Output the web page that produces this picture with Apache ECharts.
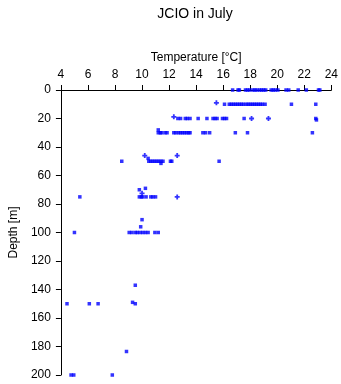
<!DOCTYPE html>
<html>
<head>
<meta charset="utf-8">
<script src="https://cdn.jsdelivr.net/npm/echarts@6/dist/echarts.min.js"></script>
<style>
  html, body { margin: 0; padding: 0; background: #fff; }
  #chart { width: 341px; height: 384px; }
</style>
</head>
<body>
<div id="chart"></div>
<script>
// Temperature profile samples, [temperature °C, depth m]
const surfaceSamples = [
  [16.7, 0], [17.1, 0], [17.2, 0], [17.65, 0], [17.8, 0], [17.95, 0], [18.2, 0], [18.35, 0],
  [18.5, 0], [18.7, 0], [18.85, 0], [19.0, 0], [19.15, 0], [19.55, 0], [19.7, 0], [19.85, 0],
  [20.05, 0], [20.65, 0], [20.85, 0], [21.55, 0], [22.15, 0], [23.05, 0], [23.15, 0]
];
const upperSamples = [
  [16.1, 10], [16.45, 10], [16.6, 10], [16.75, 10], [16.9, 10], [17.05, 10], [17.2, 10], [17.35, 10],
  [17.5, 10], [17.7, 10], [17.85, 10], [18.0, 10], [18.15, 10], [18.3, 10], [18.45, 10], [18.6, 10],
  [18.75, 10], [18.9, 10], [19.1, 10], [21.05, 10], [22.85, 10],
  [12.65, 20], [12.85, 20], [13.2, 20], [13.35, 20], [13.55, 20], [14.15, 20], [14.8, 20],
  [15.25, 20], [15.4, 20], [15.55, 20], [15.95, 20], [16.1, 20], [16.25, 20], [17.55, 20],
  [22.85, 20], [22.9, 21],
  [11.2, 28], [11.2, 30], [11.35, 30], [11.45, 30], [11.7, 30], [11.85, 30], [12.35, 30], [12.5, 30],
  [12.7, 30], [12.85, 30], [13.0, 30], [13.15, 30], [13.3, 30], [13.45, 30], [13.55, 30],
  [14.5, 30], [14.7, 30], [15.0, 30], [16.9, 30], [17.8, 30], [22.6, 30]
];
const middleSamples = [
  [8.5, 50], [10.45, 48], [10.5, 50], [10.65, 50], [10.8, 50], [10.95, 50], [11.1, 50], [11.25, 50],
  [11.4, 50], [11.55, 50], [11.4, 51.5], [12.1, 50], [12.2, 50], [15.7, 50],
  [9.8, 70], [10.25, 69], [5.4, 75], [9.8, 75], [9.95, 75], [10.05, 75], [10.3, 75], [10.65, 75],
  [10.8, 75], [11.0, 75],
  [10.0, 91], [9.9, 96], [5.0, 100], [9.05, 100], [9.25, 100], [9.5, 100], [9.65, 100], [9.85, 100],
  [10.05, 100], [10.25, 100], [10.45, 100], [10.95, 100], [11.2, 100]
];
const deepSamples = [
  [9.5, 137], [4.45, 150], [6.1, 150], [6.75, 150], [9.3, 149], [9.5, 150],
  [8.85, 183.5], [4.75, 200], [4.95, 200], [7.8, 200]
];
// Casts plotted with the plus symbol
const plusSamples = [
  [15.5, 9], [12.35, 18.8], [18.1, 20], [19.35, 20],
  [10.2, 46], [12.6, 46], [10.0, 72.5], [12.6, 75]
];

const tempTicks = { min: 4, max: 24, step: 2 };
const depthTicks = { min: 0, max: 200, step: 20 };

const font = 'Liberation Sans, Arial, Helvetica, sans-serif';
const blue = '#0000ff';
const plusPath = 'path://M1.6,0H3.4V1.6H5V3.4H3.4V5H1.6V3.4H0V1.6H1.6Z';

const chart = echarts.init(document.getElementById('chart'), null, { renderer: 'canvas' });
chart.setOption({
  animation: false,
  backgroundColor: '#ffffff',
  title: {
    text: 'JCIO in July',
    left: 190,
    top: 2,
    textAlign: 'center',
    textStyle: { fontFamily: font, fontSize: 14, fontWeight: 'normal', color: '#000' }
  },
  grid: { left: 47, right: 8, top: 90, bottom: 9, containLabel: false },
  xAxis: {
    type: 'value',
    position: 'top',
    min: tempTicks.min,
    max: tempTicks.max,
    interval: tempTicks.step,
    name: 'Temperature [°C]',
    nameLocation: 'middle',
    nameGap: 22,
    nameTextStyle: { fontFamily: font, fontSize: 12, color: '#000' },
    axisLine: { show: true, onZero: false, lineStyle: { color: '#000', width: 1 } },
    axisTick: { show: true, inside: false, length: 5, lineStyle: { color: '#000' } },
    axisLabel: { fontFamily: font, fontSize: 12, color: '#000', margin: 9 },
    splitLine: { show: false }
  },
  yAxis: {
    type: 'value',
    inverse: true,
    min: depthTicks.min,
    max: depthTicks.max,
    interval: depthTicks.step,
    name: 'Depth [m]',
    nameLocation: 'middle',
    nameGap: 32,
    nameTextStyle: { fontFamily: font, fontSize: 12, color: '#000' },
    axisLine: { show: true, onZero: false, lineStyle: { color: '#000', width: 1 } },
    axisTick: { show: true, inside: false, length: 5, lineStyle: { color: '#000' } },
    axisLabel: { fontFamily: font, fontSize: 12, color: '#000', margin: 10 },
    splitLine: { show: false }
  },
  series: [
    { type: 'scatter', data: surfaceSamples, symbol: 'rect', symbolSize: 3.5, itemStyle: { color: blue } },
    { type: 'scatter', data: upperSamples, symbol: 'rect', symbolSize: 3.5, itemStyle: { color: blue } },
    { type: 'scatter', data: middleSamples, symbol: 'rect', symbolSize: 3.5, itemStyle: { color: blue } },
    { type: 'scatter', data: deepSamples, symbol: 'rect', symbolSize: 3.5, itemStyle: { color: blue } },
    { type: 'scatter', data: plusSamples, symbol: plusPath, symbolSize: 5, itemStyle: { color: blue } }
  ]
});
</script>
</body>
</html>
